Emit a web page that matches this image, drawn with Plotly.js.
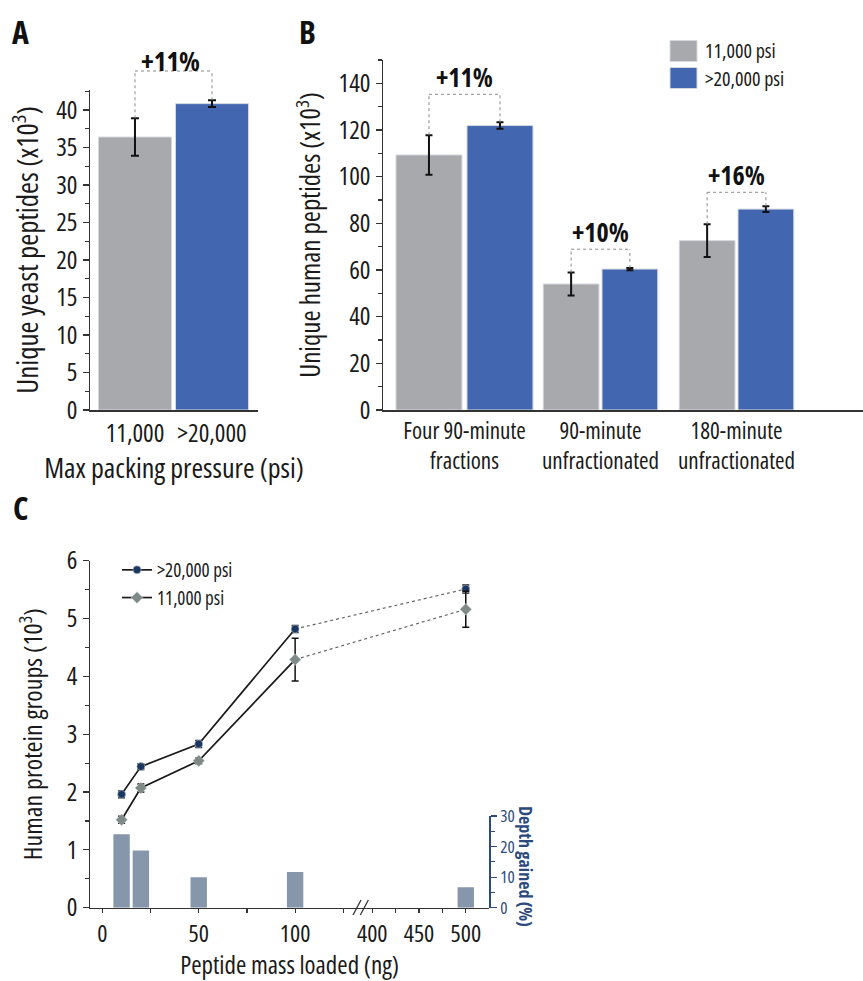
<!DOCTYPE html>
<html>
<head>
<meta charset="utf-8">
<script src="https://cdn.plot.ly/plotly-3.0.1.min.js"></script>
<style>
html,body{margin:0;padding:0;background:#fff}
#chart{width:863px;height:981px}
text, tspan { font-stretch: 75% !important; }
</style>
</head>
<body>
<div id="chart"></div>
<script>
// ---------------- DATA ----------------
// Panel A
const pressureLabels = ['11,000', '>20,000'];
const yeastPeptides = [36.4, 40.85];
const yeastErr = [2.5, 0.45];
const gainA = '+11%';

// Panel B
const workflowLabels = ['Four 90-minute<br>fractions', '90-minute<br>unfractionated', '180-minute<br>unfractionated'];
const human11k = [109.3, 54.0, 72.6];
const human11kErr = [8.5, 4.9, 7.0];
const human20k = [121.9, 60.4, 86.1];
const human20kErr = [1.4, 0.5, 1.2];
const gainB = ['+11%', '+10%', '+16%'];
const seriesNames = ['11,000 psi', '>20,000 psi'];

// Panel C
const massLoaded = [10, 20, 50, 100, 500];
const proteins20k = [1.96, 2.44, 2.83, 4.82, 5.51];
const proteins20kErr = [0.06, 0.05, 0.06, 0.06, 0.07];
const proteins11k = [1.52, 2.07, 2.54, 4.29, 5.16];
const proteins11kErr = [0.06, 0.07, 0.05, 0.37, 0.31];
const depthGained = [24.0, 18.7, 10.0, 11.7, 6.7];
const massTicks = [0, 50, 100, 400, 450, 500];
const massMinorTicks = [25, 75, 125, 425, 475];

// ---------------- STYLE ----------------
const W = 863, H = 981;
const FONT = '"Open Sans", "Roboto Condensed", sans-serif';
const TXT = '#1a1a1a';
const AXC = '#333333';
const GRAY = '#a8a9ad';
const BLUE = '#4267b0';
const NAVY = '#1b3660';
const DIAM = '#7f8a86';
const SLATE = '#8797ab';
const RAXC = '#2c4a7c';

const px = v => v / W;
const py = v => 1 - v / H;

// axis geometry
const A = { xd: [px(90), px(258)], xr: [-0.584, 1.597], yd: [py(410), py(90)], yr: [0, 42.67] };
const B = { xd: [px(383), 1], xr: [-0.599, 2.93], yd: [py(410), py(60)], yr: [0, 150] };
const C = { xd: [px(90), px(489.3)], xr: [-6.38, 200.7], yd: [py(907.7), py(560.7)], yr: [0, 6], y2d: [py(907.7), py(816)], y2r: [0, 30] };

// broken mass axis: beyond the break the scale is compressed
const BREAK_FROM = 400, BREAK_AT = 140, BREAK_SCALE = 0.485;
const brk = m => (m < 300 ? m : BREAK_AT + (m - BREAK_FROM) * BREAK_SCALE);

const mapLin = (v, r, d) => d[0] + (v - r[0]) / (r[1] - r[0]) * (d[1] - d[0]);

// bar widths for panel B per category, and gap between the pair
const wB = [0.485, 0.41, 0.41];
const gB = [0.037, 0.022, 0.022];
const bracketPadB = [12, 8, 6];

const traces = [];

// Panel A bars
traces.push({
  type: 'bar', x: pressureLabels, y: yeastPeptides, xaxis: 'x', yaxis: 'y',
  width: 0.948,
  marker: { color: [GRAY, BLUE], line: { width: 1, color: '#d6d8df' } },
  error_y: { type: 'data', array: yeastErr, color: '#111', thickness: 2, width: 4 },
  showlegend: false, hoverinfo: 'y'
});

// Panel B bars
traces.push({
  type: 'bar', name: seriesNames[0], x: workflowLabels, y: human11k, xaxis: 'x2', yaxis: 'y2',
  width: wB, offset: wB.map((w, i) => -(w + gB[i] / 2)),
  marker: { color: GRAY, line: { width: 1, color: '#d6d8df' } },
  error_y: { type: 'data', array: human11kErr, color: '#111', thickness: 2, width: 3.5 },
  showlegend: false
});
traces.push({
  type: 'bar', name: seriesNames[1], x: workflowLabels, y: human20k, xaxis: 'x2', yaxis: 'y2',
  width: wB, offset: wB.map((w, i) => gB[i] / 2),
  marker: { color: BLUE, line: { width: 1, color: '#d6d8df' } },
  error_y: { type: 'data', array: human20kErr, color: '#111', thickness: 2, width: 3.5 },
  showlegend: false
});

// Panel C depth-gained bars (right axis)
traces.push({
  type: 'bar', x: massLoaded.map(brk), y: depthGained, xaxis: 'x3', yaxis: 'y4',
  width: 8.5, marker: { color: SLATE }, showlegend: false, name: 'Depth gained (%)'
});

// Panel C lines
const N_SOLID = 4; // measured points joined by solid line (10-100 ng)
function seriesC(name, yv, ev, color, symbol, size) {
  const xs = massLoaded.map(brk);
  const out = [];
  out.push({
    type: 'scatter', mode: 'lines', x: xs.slice(N_SOLID - 1), y: yv.slice(N_SOLID - 1),
    xaxis: 'x3', yaxis: 'y3', line: { color: '#666', width: 1.2, dash: 'dot' },
    showlegend: false, hoverinfo: 'skip'
  });
  out.push({
    type: 'scatter', mode: 'lines+markers', name: name, legend: 'legend2',
    x: xs.slice(0, N_SOLID), y: yv.slice(0, N_SOLID), xaxis: 'x3', yaxis: 'y3',
    line: { color: '#1a1a1a', width: 1.7 },
    marker: { color: color, symbol: symbol, size: size, line: { width: 0.5, color: '#cfd6e0' } },
    error_y: { type: 'data', array: ev.slice(0, N_SOLID), color: '#111', thickness: 1.5, width: 3.5 }
  });
  out.push({
    type: 'scatter', mode: 'markers', x: xs.slice(N_SOLID), y: yv.slice(N_SOLID),
    xaxis: 'x3', yaxis: 'y3',
    marker: { color: color, symbol: symbol, size: size, line: { width: 0.5, color: '#cfd6e0' } },
    error_y: { type: 'data', array: ev.slice(N_SOLID), color: '#111', thickness: 1.5, width: 3.5 },
    showlegend: false
  });
  return out;
}
traces.push(...seriesC('>20,000 psi', proteins20k, proteins20kErr, NAVY, 'circle', 8));
traces.push(...seriesC('11,000 psi', proteins11k, proteins11kErr, DIAM, 'diamond', 9));

// ---------------- ANNOTATIONS / SHAPES ----------------
const annotations = [];
const shapes = [];
const dotLine = { color: '#8a8a8a', width: 1, dash: 'dot' };

// Panel letters
[['A', 20, 31], ['B', 307, 31], ['C', 20, 507]].forEach(([t, x, y]) => {
  annotations.push({ text: '<b>' + t + '</b>', xref: 'paper', yref: 'paper', x: px(x), y: py(y),
    xanchor: 'center', yanchor: 'middle',
    showarrow: false, font: { size: 32, color: '#111', family: FONT } });
});

// Panel A bracket (above plot area, paper coordinates)
(function () {
  const xl = mapLin(0, A.xr, A.xd), xr = mapLin(1, A.xr, A.xd);
  const topL = yeastPeptides[0] + yeastErr[0], topR = yeastPeptides[1] + yeastErr[1];
  const top = Math.max(topL, topR) + 3.9;
  const yTop = mapLin(top, A.yr, A.yd);
  shapes.push({ type: 'line', xref: 'paper', yref: 'paper', x0: xl, x1: xl, y0: mapLin(topL, A.yr, A.yd), y1: yTop, line: dotLine });
  shapes.push({ type: 'line', xref: 'paper', yref: 'paper', x0: xr, x1: xr, y0: mapLin(topR, A.yr, A.yd), y1: yTop, line: dotLine });
  shapes.push({ type: 'line', xref: 'paper', yref: 'paper', x0: xl, x1: xr, y0: yTop, y1: yTop, line: dotLine });
  annotations.push({ text: '<b>' + gainA + '</b>', xref: 'paper', yref: 'paper', x: (xl + xr) / 2 - 0.004, y: yTop,
    xanchor: 'center', yanchor: 'middle', yshift: 11, showarrow: false, font: { size: 27, color: '#111', family: FONT } });
})();

// Panel B brackets
workflowLabels.forEach((_, i) => {
  const xl = i - wB[i] / 2 - gB[i] / 2, xr = i + gB[i] / 2 + wB[i] / 2;
  const topL = human11k[i] + human11kErr[i], topR = human20k[i] + human20kErr[i];
  const top = Math.max(topL, topR) + bracketPadB[i];
  shapes.push({ type: 'line', xref: 'x2', yref: 'y2', x0: xl, x1: xl, y0: topL, y1: top, line: dotLine });
  shapes.push({ type: 'line', xref: 'x2', yref: 'y2', x0: xr, x1: xr, y0: topR, y1: top, line: dotLine });
  shapes.push({ type: 'line', xref: 'x2', yref: 'y2', x0: xl, x1: xr, y0: top, y1: top, line: dotLine });
  annotations.push({ text: '<b>' + gainB[i] + '</b>', xref: 'x2', yref: 'y2', x: (xl + xr) / 2, y: top,
    xanchor: 'center', yanchor: 'middle', yshift: 17, showarrow: false, font: { size: 26, color: '#111', family: FONT } });
});

// Panel B legend (manual, large swatches)
[[GRAY, seriesNames[0], 51], [BLUE, seriesNames[1], 78]].forEach(([c, t, yc]) => {
  shapes.push({ type: 'rect', xref: 'paper', yref: 'paper', x0: px(670), x1: px(697), y0: py(yc + 10.5), y1: py(yc - 10.5),
    fillcolor: c, line: { width: 1, color: '#d6d8df' } });
  annotations.push({ text: t, xref: 'paper', yref: 'paper', x: px(703), y: py(yc), xanchor: 'left', yanchor: 'middle',
    showarrow: false, font: { size: 20, color: TXT, family: FONT } });
});

// Panel C axis break marks
[134.0 - 1.9, 134.0 + 1.9].forEach(v => {
  const xc = mapLin(v, C.xr, C.xd);
  shapes.push({ type: 'line', xref: 'paper', yref: 'paper', x0: xc - px(4), x1: xc + px(4), y0: py(915), y1: py(900),
    line: { color: '#333', width: 1.3 } });
});

// Right axis title (reads top-to-bottom)
annotations.push({ text: '<b>Depth gained (%)</b>', xref: 'paper', yref: 'paper', x: px(526), y: py(866),
  xanchor: 'center', yanchor: 'middle',
  textangle: 90, showarrow: false, font: { size: 18, color: RAXC, family: FONT } });

// ---------------- LAYOUT ----------------
const baseAxis = {
  showgrid: false, zeroline: false, showline: true, linecolor: AXC, linewidth: 1.5,
  ticks: 'outside', ticklen: 6, tickwidth: 1.2, tickcolor: AXC, tickangle: 0,
  tickfont: { size: 25, color: TXT, family: FONT }
};

const layout = {
  width: W, height: H,
  margin: { l: 0, r: 0, t: 0, b: 0, pad: 0 },
  paper_bgcolor: '#fff', plot_bgcolor: 'rgba(0,0,0,0)',
  font: { family: FONT, color: TXT },
  barmode: 'overlay',
  showlegend: true,
  legend2: {
    x: px(117), y: py(551), xanchor: 'left', yanchor: 'top',
    bgcolor: 'rgba(0,0,0,0)', font: { size: 19, color: TXT, family: FONT },
    itemwidth: 30, tracegroupgap: 0
  },
  // Panel A
  xaxis: Object.assign({}, baseAxis, {
    domain: A.xd, range: A.xr, anchor: 'y', type: 'category', ticks: '',
    title: { text: 'Max packing pressure (psi)', font: { size: 28, color: TXT, family: FONT }, standoff: 4 }
  }),
  yaxis: Object.assign({}, baseAxis, {
    domain: A.yd, range: A.yr, anchor: 'x', tickvals: [0, 5, 10, 15, 20, 25, 30, 35, 40],
    minor: { tickvals: [2.5, 7.5, 12.5, 17.5, 22.5, 27.5, 32.5, 37.5, 42.5], ticks: 'outside', ticklen: 4, tickcolor: AXC },
    title: { text: 'Unique yeast peptides (x10<sup>3</sup>)', font: { size: 29, color: TXT, family: FONT }, standoff: 9 }
  }),
  // Panel B
  xaxis2: Object.assign({}, baseAxis, {
    domain: B.xd, range: B.xr, anchor: 'y2', type: 'category', ticks: '',
    tickfont: { size: 23, color: TXT, family: FONT }
  }),
  yaxis2: Object.assign({}, baseAxis, {
    domain: B.yd, range: B.yr, anchor: 'x2', tickvals: [0, 20, 40, 60, 80, 100, 120, 140],
    minor: { tickvals: [10, 30, 50, 70, 90, 110, 130, 150], ticks: 'outside', ticklen: 4, tickcolor: AXC },
    title: { text: 'Unique human peptides (x10<sup>3</sup>)', font: { size: 27, color: TXT, family: FONT }, standoff: 10 }
  }),
  // Panel C
  xaxis3: Object.assign({}, baseAxis, {
    domain: C.xd, range: C.xr, anchor: 'y3', ticklen: 4,
    tickvals: massTicks.map(brk), ticktext: massTicks.map(String),
    minor: { tickvals: massMinorTicks.map(brk), ticks: 'outside', ticklen: 4, tickcolor: AXC },
    tickfont: { size: 24, color: TXT, family: FONT },
    title: { text: 'Peptide mass loaded (ng)', font: { size: 25, color: TXT, family: FONT }, standoff: 10 }
  }),
  yaxis3: Object.assign({}, baseAxis, {
    domain: C.yd, range: C.yr, anchor: 'x3', tickvals: [0, 1, 2, 3, 4, 5, 6],
    minor: { tickvals: [0.5, 1.5, 2.5, 3.5, 4.5, 5.5], ticks: 'outside', ticklen: 4, tickcolor: AXC },
    title: { text: 'Human protein groups (10<sup>3</sup>)', font: { size: 26, color: TXT, family: FONT }, standoff: 16 }
  }),
  yaxis4: Object.assign({}, baseAxis, {
    domain: C.y2d, range: C.y2r, anchor: 'x3', side: 'right',
    linecolor: RAXC, tickcolor: RAXC, tickvals: [0, 10, 20, 30],
    minor: { tickvals: [5, 15, 25], ticks: 'outside', ticklen: 4, tickcolor: RAXC },
    tickfont: { size: 17, color: RAXC, family: FONT }
  }),
  annotations: annotations,
  shapes: shapes
};

Plotly.newPlot('chart', traces, layout, { displayModeBar: false, staticPlot: true });
</script>
</body>
</html>
